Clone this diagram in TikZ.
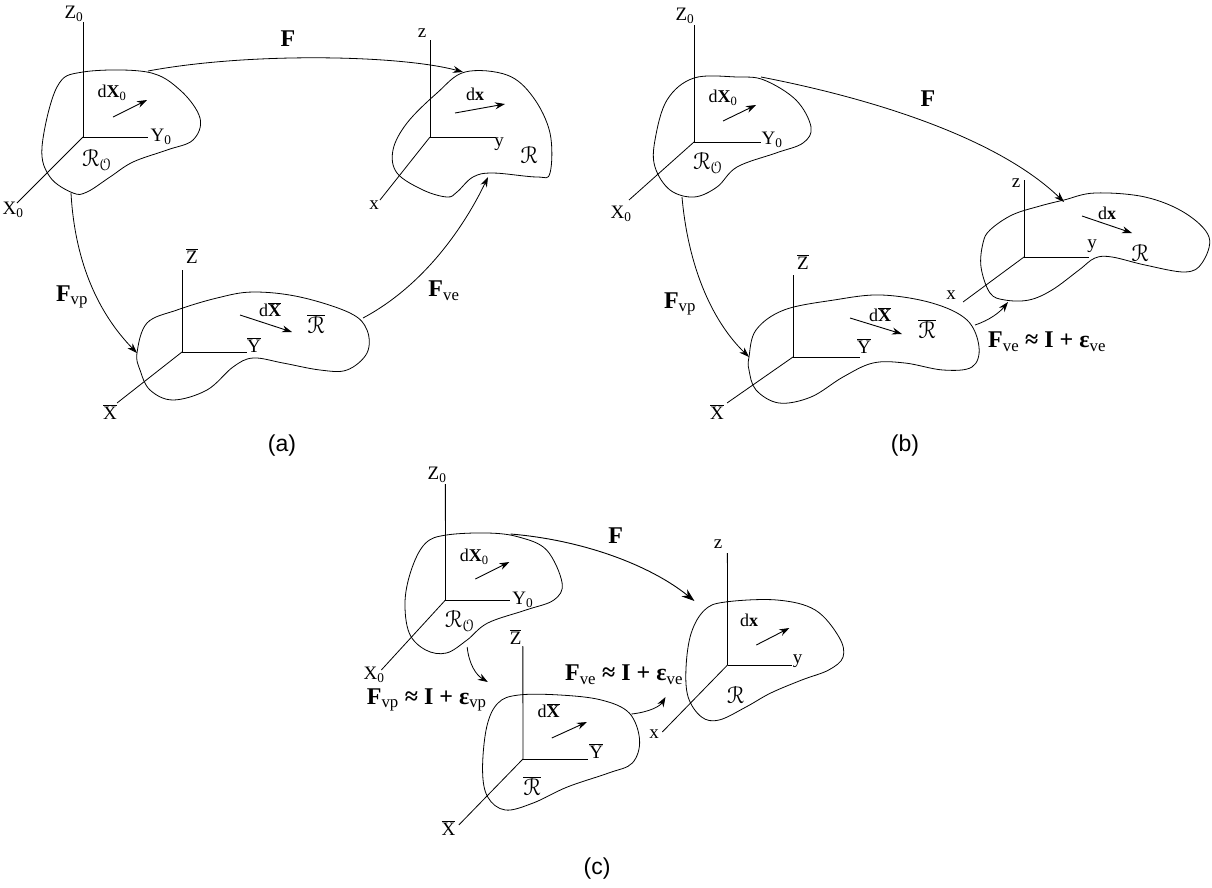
\documentclass[tikz,border=0pt]{standalone}
\usepackage{fontspec}
\usepackage{eucal}
\setmainfont{Liberation Serif}
\newfontfamily\panelfont{Liberation Sans}
\usetikzlibrary{arrows.meta}
\newcommand{\Rsc}{$\mathcal{R}$}
\newcommand{\RO}{$\mathcal{R}_{\mathcal{O}}$}
\newcommand{\Rbar}{$\overline{\mathcal{R}}$}
\newcommand{\barl}[1]{$\overline{\hbox{#1}}$}
\tikzset{
  blob/.style={line width=0.8pt},
  axis/.style={line width=0.8pt},
  vec/.style={line width=0.9pt,-{Stealth[length=10pt,width=7pt]}},
  mapto/.style={line width=0.8pt,-{Stealth[length=10pt,width=7pt]}},
  lbl/.style={font=\fontsize{19}{22}\selectfont, inner sep=0pt},
  dlbl/.style={font=\fontsize{18}{21}\selectfont, inner sep=0pt},
  flbl/.style={font=\fontsize{24}{28}\selectfont, inner sep=0pt},
  rlbl/.style={font=\fontsize{24}{28}\selectfont, inner sep=0pt},
  panellbl/.style={font=\panelfont\fontsize{23}{28}\selectfont, inner sep=0pt}
}
\begin{document}
\begin{tikzpicture}[x=1pt,y=-1pt]
\useasboundingbox (0,0) rectangle (1212,887);

%%%%%%%%%%%%%%%% (a)
\draw[blob] plot[smooth cycle, tension=0.6] coordinates {(83,72) (147,72) (180,90) (200,118) (193,140) (167,150) (133,162) (110,177) (87,192) (73,193) (50,177) (42,147) (57,87)};
\coordinate (oa0) at (83,137);
\draw[axis] (oa0) -- (83,22);
\draw[axis] (oa0) -- (148,137);
\draw[axis] (oa0) -- (17,203);
\node[lbl] (aZ0) at (74,14) {Z\textsubscript{0}};
\node[lbl] (aY0) at (161,137) {Y\textsubscript{0}};
\node[lbl] (aX0) at (13,210) {X\textsubscript{0}};
\node[dlbl] (adX0) at (112,93) {d\textbf{X}\textsubscript{0}};
\draw[vec] (113,117) -- (147,100);
\node[rlbl] (aR0) at (97,160) {\RO};
\draw[blob] plot[smooth cycle, tension=0.6] coordinates {(465,72) (507,75) (533,97) (550,133) (550,173) (537,177) (493,173) (473,177) (457,192) (447,197) (423,190) (397,173) (393,150) (407,123) (437,93)};
\coordinate (oa1) at (430,137);
\draw[axis] (oa1) -- (430,40);
\draw[axis] (oa1) -- (496,137);
\draw[axis] (oa1) -- (380,200);
\node[lbl] (az) at (422,33) {z};
\node[lbl] (ay) at (499,144) {y};
\node[lbl] (ax) at (374,205) {x};
\node[dlbl] (adx) at (475,94) {d\textbf{x}};
\draw[vec] (455,113) -- (505,104);
\node[rlbl] (aR) at (529,155) {\Rsc};
\draw[blob] plot[smooth cycle, tension=0.6] coordinates {(137,353) (147,323) (177,310) (217,298) (253,292) (300,297) (350,313) (367,330) (367,353) (347,370) (320,370) (283,363) (253,358) (233,367) (207,390) (173,400) (150,390) (140,370)};
\coordinate (oa2) at (182,352);
\draw[axis] (oa2) -- (182,270);
\draw[axis] (oa2) -- (247,352);
\draw[axis] (oa2) -- (117,403);
\node[lbl] (aZb) at (192,256) {\barl{Z}};
\node[lbl] (aYb) at (254,345) {\barl{Y}};
\node[lbl] (aXb) at (110,412) {\barl{X}};
\node[dlbl] (adXb) at (270,310) {d\barl{\textbf{X}}};
\draw[vec] (240,315) -- (292,332);
\node[rlbl] (aRb) at (316,324) {\Rbar};
\coordinate (aFs) at (148,71);
\coordinate (aFe) at (463,72);
\draw[mapto] (aFs) .. controls (250,52) and (400,55) .. (aFe);
\node[flbl] (aF) at (288,39) {\textbf{F}};
\coordinate (aPs) at (71,193);
\coordinate (aPe) at (137,353);
\draw[mapto] (aPs) .. controls (75,265) and (100,315) .. (aPe);
\node[flbl] (aFvp) at (72,297) {\textbf{F}\textsubscript{vp}};
\coordinate (aEs) at (363,318);
\coordinate (aEe) at (488,177);
\draw[mapto] (aEs) .. controls (425,285) and (465,225) .. (aEe);
\node[flbl] (aFve) at (444,291) {\textbf{F}\textsubscript{ve}};
\node[panellbl] (pa) at (282,446) {(a)};

%%%%%%%%%%%%%%%% (b)
\draw[blob] plot[smooth cycle, tension=0.6] coordinates {(694,78) (737,77) (764,80) (796,100) (811,127) (803,143) (776,153) (737,167) (717,187) (694,197) (670,190) (655,167) (655,140) (667,100)};
\coordinate (ob0) at (694,142);
\draw[axis] (ob0) -- (694,25);
\draw[axis] (ob0) -- (761,142);
\draw[axis] (ob0) -- (629,200);
\node[lbl] (bZ0) at (685,16) {Z\textsubscript{0}};
\node[lbl] (bY0) at (772,140) {Y\textsubscript{0}};
\node[lbl] (bX0) at (621,214) {X\textsubscript{0}};
\node[dlbl] (bdX0) at (723,98) {d\textbf{X}\textsubscript{0}};
\draw[vec] (723,121) -- (756,105);
\node[rlbl] (bR0) at (708,163) {\RO};
\draw[blob] plot[smooth cycle, tension=0.6] coordinates {(990,230) (1012,215) (1040,206) (1064,200) (1095,193) (1145,197) (1185,213) (1209,237) (1202,263) (1185,272) (1145,265) (1112,257) (1095,258) (1079,270) (1052,290) (1029,300) (1005,300) (990,293) (981,267) (983,243)};
\coordinate (ob1) at (1024,257);
\draw[axis] (ob1) -- (1024,180);
\draw[axis] (ob1) -- (1089,257);
\draw[axis] (ob1) -- (963,302);
\node[lbl] (bz) at (1016,183) {z};
\node[lbl] (by) at (1092,246) {y};
\node[lbl] (bx) at (951,295) {x};
\node[dlbl] (bdx) at (1107,213) {d\textbf{x}};
\draw[vec] (1082,216) -- (1132,233);
\node[rlbl] (bR) at (1140,253) {\Rsc};
\draw[blob] plot[smooth cycle, tension=0.6] coordinates {(749,357) (756,330) (784,310) (834,300) (881,295) (932,303) (967,320) (979,347) (972,367) (943,370) (905,363) (873,363) (843,377) (811,397) (779,403) (756,390) (749,370)};
\coordinate (ob2) at (793,357);
\draw[axis] (ob2) -- (793,275);
\draw[axis] (ob2) -- (860,357);
\draw[axis] (ob2) -- (727,403);
\node[lbl] (bZb) at (803,262) {\barl{Z}};
\node[lbl] (bYb) at (864,346) {\barl{Y}};
\node[lbl] (bXb) at (717,412) {\barl{X}};
\node[dlbl] (bdXb) at (880,315) {d\barl{\textbf{X}}};
\draw[vec] (850,318) -- (902,334);
\node[rlbl] (bRb) at (927,329) {\Rbar};
\coordinate (bFs) at (761,77);
\coordinate (bFe) at (1064,202);
\draw[mapto] (bFs) .. controls (880,100) and (1000,140) .. (bFe);
\node[flbl] (bF) at (928,99) {\textbf{F}};
\coordinate (bPs) at (682,197);
\coordinate (bPe) at (749,357);
\draw[mapto] (bPs) .. controls (688,265) and (711,320) .. (bPe);
\node[flbl] (bFvp) at (680,304) {\textbf{F}\textsubscript{vp}};
\coordinate (bEs) at (975,325);
\coordinate (bEe) at (1008,302);
\draw[mapto] (bEs) .. controls (990,320) and (1000,312) .. (bEe);
\node[flbl, anchor=west] (bFve) at (988,342) {\textbf{F}\textsubscript{ve} \textbf{≈ I + ε}\textsubscript{ve}};
\node[panellbl] (pb) at (905,446) {(b)};

%%%%%%%%%%%%%%%% (c)
\begin{scope}[shift={(340,0)}, xscale=1.033, shift={(-340,0)}]
\draw[blob] plot[smooth cycle, tension=0.6] coordinates {(443,535) (483,533) (513,537) (540,550) (555,583) (547,600) (520,610) (483,623) (463,640) (443,653) (423,650) (407,633) (403,600) (410,567) (423,543)};
\coordinate (oc0) at (442,600);
\draw[axis] (oc0) -- (442,484);
\draw[axis] (oc0) -- (505,600);
\draw[axis] (oc0) -- (380,670);
\node[lbl] (cZ0) at (434,475) {Z\textsubscript{0}};
\node[lbl] (cY0) at (517,600) {Y\textsubscript{0}};
\node[lbl] (cX0) at (373,675) {X\textsubscript{0}};
\node[dlbl] (cdX0) at (470,557) {d\textbf{X}\textsubscript{0}};
\draw[vec] (471,579) -- (504,562);
\node[rlbl] (cR0) at (456,621) {\RO};
\draw[blob] plot[smooth cycle, tension=0.6] coordinates {(513,695) (553,695) (593,700) (620,713) (630,740) (623,763) (600,773) (560,787) (527,803) (500,810) (483,797) (478,770) (482,727) (493,703)};
\coordinate (oc1) at (517,759);
\draw[axis] (oc1) -- (517,646);
\draw[axis] (oc1) -- (580,759);
\draw[axis] (oc1) -- (455,825);
\node[lbl] (cZb) at (510,637) {\barl{Z}};
\node[lbl] (cYb) at (588,751) {\barl{Y}};
\node[lbl] (cXb) at (445,828) {\barl{X}};
\node[dlbl] (cdXb) at (542,711) {d\barl{\textbf{X}}};
\draw[vec] (545,738) -- (579,722);
\node[rlbl] (cRb) at (526,786) {\Rbar};
\draw[blob] plot[smooth cycle, tension=0.6] coordinates {(713,602) (763,600) (800,610) (823,637) (827,657) (813,670) (787,680) (757,693) (733,707) (707,720) (690,717) (677,697) (675,667) (680,633) (693,610)};
\coordinate (oc2) at (715,665);
\draw[axis] (oc2) -- (715,553);
\draw[axis] (oc2) -- (778,665);
\draw[axis] (oc2) -- (652,732);
\node[lbl] (cz) at (706,544) {z};
\node[lbl] (cy) at (783,661) {y};
\node[lbl] (cx) at (644,734) {x};
\node[dlbl] (cdx) at (736,620) {d\textbf{x}};
\draw[vec] (743,645) -- (775,628);
\node[rlbl] (cR) at (723,695) {\Rsc};
\coordinate (cFs) at (505,534);
\coordinate (cFe) at (683,601);
\draw[line width=0.9pt,-{Stealth[length=13pt,width=9pt]}] (cFs) .. controls (575,540) and (640,565) .. (cFe);
\node[flbl] (cF) at (607,536) {\textbf{F}};
\coordinate (cPs) at (463,647);
\coordinate (cPe) at (483,682);
\draw[mapto] (cPs) .. controls (465,665) and (472,675) .. (cPe);
\node[flbl] (cFvp) at (424,700) {\textbf{F}\textsubscript{vp} \textbf{≈ I + ε}\textsubscript{vp}};
\coordinate (cEs) at (622,714);
\coordinate (cEe) at (655,697);
\draw[mapto] (cEs) .. controls (640,712) and (650,706) .. (cEe);
\node[flbl] (cFve) at (615,675) {\textbf{F}\textsubscript{ve} \textbf{≈ I + ε}\textsubscript{ve}};
\end{scope}
\node[panellbl] (pc) at (597,869) {(c)};
\end{tikzpicture}
\end{document}
